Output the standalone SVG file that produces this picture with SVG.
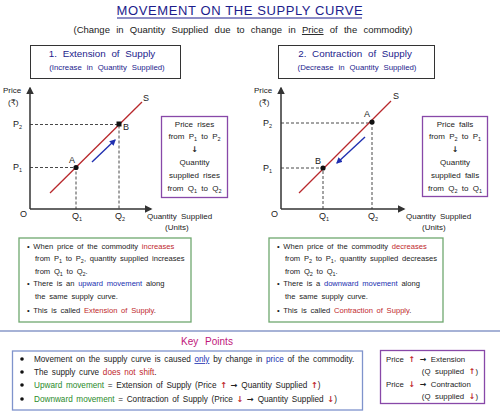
<svg xmlns="http://www.w3.org/2000/svg" width="500" height="413" viewBox="0 0 500 413">
<defs>
<style>
text{font-family:"Liberation Sans","DejaVu Sans","Noto Sans",sans-serif;fill:#222;}
.title{font-size:13px;fill:#1c1c8c;letter-spacing:0.6px;}
.sub{font-size:9.5px;fill:#222;word-spacing:3.6px;}
.hd{font-size:9.8px;fill:#1c1c8c;word-spacing:3px;}
.hd2{font-size:7.8px;fill:#1c1c8c;word-spacing:2.8px;}
.ax{font-size:8px;}
.lbl{font-size:9px;}
.bx{font-size:8px;word-spacing:2px;}
.gt{font-size:7.6px;word-spacing:1.6px;}
.kp{font-size:8.2px;word-spacing:1.4px;}
.st{font-size:7.8px;word-spacing:2.5px;}
.ar{font-family:"DejaVu Sans",sans-serif;font-weight:bold;}
.rd{fill:#c0282c;}
.bl{fill:#2030b0;}
.gr{fill:#2a8a2a;}
.s{font-size:5.5px;}
.box{fill:#fff;stroke:#333;stroke-width:1;}
.pbox{fill:#fff;stroke:#8848a8;stroke-width:1.3;}
.gbox{fill:#fff;stroke:#6fa86f;stroke-width:1.3;}
.kbox{fill:#fff;stroke:#7f93cc;stroke-width:1.3;}
.axis{stroke:#333;stroke-width:1.5;fill:none;}
.dash{stroke:#333;stroke-width:0.9;stroke-dasharray:3,2;fill:none;}
.curve{stroke:#b8282c;stroke-width:1.3;fill:none;}
.mv{stroke:#2030b0;stroke-width:1.4;fill:none;}
</style>
<marker id="ah" viewBox="0 0 10 10" refX="8" refY="5" markerWidth="5" markerHeight="5" orient="auto"><path d="M0,0 L10,5 L0,10 z" fill="#333"/></marker>
<marker id="bh" viewBox="0 0 10 10" refX="8" refY="5" markerWidth="4.5" markerHeight="4.5" orient="auto"><path d="M0,0 L10,5 L0,10 z" fill="#2030b0"/></marker>
</defs>
<rect width="500" height="413" fill="#fff"/>

<g id="title">
<text class="title" x="240" y="15" text-anchor="middle">MOVEMENT ON THE SUPPLY CURVE</text>
<line x1="117" y1="18" x2="362" y2="18" stroke="#1c1c8c" stroke-width="1"/>
<text class="sub" x="243" y="33" text-anchor="middle">(Change in Quantity Supplied due to change in <tspan text-decoration="underline">Price</tspan> of the commodity)</text>
</g>

<g id="head1">
<rect class="box" x="30.5" y="45.5" width="150" height="33"/>
<text class="hd" x="102" y="57" text-anchor="middle">1. Extension of Supply</text>
<text class="hd2" x="107" y="70" text-anchor="middle">(Increase in Quantity Supplied)</text>
</g>
<g id="head2">
<rect class="box" x="278.5" y="45.5" width="156" height="33"/>
<text class="hd" x="355" y="57" text-anchor="middle">2. Contraction of Supply</text>
<text class="hd2" x="357" y="70" text-anchor="middle">(Decrease in Quantity Supplied)</text>
</g>

<g id="graph1">
<text class="ax" x="3" y="93">Price</text>
<text class="ax" x="8" y="105">(₹)</text>
<text class="lbl" x="13" y="127">P<tspan class="s" dy="2">2</tspan></text>
<text class="lbl" x="13" y="170">P<tspan class="s" dy="2">1</tspan></text>
<text class="lbl" x="20" y="217">O</text>
<text class="lbl" x="72" y="219">Q<tspan class="s" dy="2">1</tspan></text>
<text class="lbl" x="115" y="219">Q<tspan class="s" dy="2">2</tspan></text>
<text class="ax" x="147" y="219" style="word-spacing:2px">Quantity Supplied</text>
<text class="ax" x="165" y="230">(Units)</text>
<text class="lbl" x="143" y="101">S</text>
<text class="lbl" x="69" y="163">A</text>
<text class="lbl" x="123" y="130">B</text>
</g>
<g id="graph2">
<text class="ax" x="254" y="93">Price</text>
<text class="ax" x="259" y="105">(₹)</text>
<text class="lbl" x="263" y="126">P<tspan class="s" dy="2">2</tspan></text>
<text class="lbl" x="263" y="171">P<tspan class="s" dy="2">1</tspan></text>
<text class="lbl" x="271" y="217">O</text>
<text class="lbl" x="319" y="219">Q<tspan class="s" dy="2">1</tspan></text>
<text class="lbl" x="368" y="219">Q<tspan class="s" dy="2">2</tspan></text>
<text class="ax" x="406" y="219" style="word-spacing:2px">Quantity Supplied</text>
<text class="ax" x="422" y="230">(Units)</text>
<text class="lbl" x="393" y="99">S</text>
<text class="lbl" x="364" y="117">A</text>
<text class="lbl" x="315" y="164">B</text>
</g>

<g id="connectors">
<path class="axis" d="M30,209 V88" marker-end="url(#ah)"/>
<path class="axis" d="M30,209 H151" marker-end="url(#ah)"/>
<path class="dash" d="M30,124.5 H119 V209"/>
<path class="dash" d="M30,167.5 H76 V209"/>
<line class="curve" x1="50" y1="193" x2="142" y2="102"/>
<line class="mv" x1="92" y1="162" x2="115" y2="140" marker-end="url(#bh)"/>
<circle cx="76" cy="167.5" r="2.6" fill="#111"/>
<rect x="116.5" y="121.5" width="5" height="5" fill="#111"/>

<path class="axis" d="M281,209 V88" marker-end="url(#ah)"/>
<path class="axis" d="M281,209 H404" marker-end="url(#ah)"/>
<path class="dash" d="M281,123 H372 V209"/>
<path class="dash" d="M281,168 H323 V209"/>
<line class="curve" x1="299" y1="193" x2="391" y2="101"/>
<line class="mv" x1="365" y1="137" x2="337" y2="163" marker-end="url(#bh)"/>
<circle cx="372" cy="122" r="2.6" fill="#111"/>
<circle cx="323" cy="168" r="2.6" fill="#111"/>
</g>

<g id="note1">
<rect class="pbox" x="161.5" y="116.5" width="66" height="81"/>
<text class="bx" x="194.5" y="127" text-anchor="middle">Price rises</text>
<text class="bx" x="194.5" y="139" text-anchor="middle">from P<tspan class="s" dy="2">1</tspan><tspan dy="-2"> to P</tspan><tspan class="s" dy="2">2</tspan></text>
<text class="bx ar" x="194.5" y="152" text-anchor="middle">↓</text>
<text class="bx" x="194.5" y="165" text-anchor="middle">Quantity</text>
<text class="bx" x="194.5" y="178" text-anchor="middle">supplied rises</text>
<text class="bx" x="194.5" y="191" text-anchor="middle">from Q<tspan class="s" dy="2">1</tspan><tspan dy="-2"> to Q</tspan><tspan class="s" dy="2">2</tspan></text>
</g>
<g id="note2">
<rect class="pbox" x="422.5" y="116.5" width="65" height="80"/>
<text class="bx" x="455" y="127" text-anchor="middle">Price falls</text>
<text class="bx" x="455" y="139" text-anchor="middle">from P<tspan class="s" dy="2">2</tspan><tspan dy="-2"> to P</tspan><tspan class="s" dy="2">1</tspan></text>
<text class="bx ar" x="455" y="152" text-anchor="middle">↓</text>
<text class="bx" x="455" y="165" text-anchor="middle">Quantity</text>
<text class="bx" x="455" y="178" text-anchor="middle">supplied falls</text>
<text class="bx" x="455" y="191" text-anchor="middle">from Q<tspan class="s" dy="2">2</tspan><tspan dy="-2"> to Q</tspan><tspan class="s" dy="2">1</tspan></text>
</g>

<g id="explain1">
<rect class="gbox" x="19" y="238" width="172" height="84"/>
<text class="gt" x="27" y="249">• When price of the commodity <tspan class="rd">increases</tspan></text>
<text class="gt" x="35" y="261">from P<tspan class="s" dy="2">1</tspan><tspan dy="-2"> to P</tspan><tspan class="s" dy="2">2</tspan><tspan dy="-2">, quantity supplied increases</tspan></text>
<text class="gt" x="35" y="274">from Q<tspan class="s" dy="2">1</tspan><tspan dy="-2"> to Q</tspan><tspan class="s" dy="2">2</tspan><tspan dy="-2">.</tspan></text>
<text class="gt" x="27" y="286">• There is an <tspan class="bl">upward movement</tspan> along</text>
<text class="gt" x="35" y="299">the same supply curve.</text>
<text class="gt" x="27" y="313">• This is called <tspan class="rd">Extension of Supply</tspan>.</text>
</g>
<g id="explain2">
<rect class="gbox" x="269" y="238" width="174" height="84"/>
<text class="gt" x="277" y="249">• When price of the commodity <tspan class="rd">decreases</tspan></text>
<text class="gt" x="285" y="261">from P<tspan class="s" dy="2">2</tspan><tspan dy="-2"> to P</tspan><tspan class="s" dy="2">1</tspan><tspan dy="-2">, quantity supplied decreases</tspan></text>
<text class="gt" x="285" y="274">from Q<tspan class="s" dy="2">2</tspan><tspan dy="-2"> to Q</tspan><tspan class="s" dy="2">1</tspan><tspan dy="-2">.</tspan></text>
<text class="gt" x="277" y="286">• There is a <tspan class="bl">downward movement</tspan> along</text>
<text class="gt" x="285" y="299">the same supply curve.</text>
<text class="gt" x="277" y="313">• This is called <tspan class="rd">Contraction of Supply</tspan>.</text>
</g>

<line x1="0" y1="331" x2="500" y2="331" stroke="#8898c8" stroke-width="1.5"/>

<g id="keypoints">
<text x="207" y="345" text-anchor="middle" font-size="10" style="fill:#c0157a;word-spacing:4px">Key Points</text>
<rect class="kbox" x="12.5" y="351" width="350" height="59"/>
<circle cx="22" cy="359" r="1.8" fill="#111"/>
<circle cx="22" cy="372" r="1.8" fill="#111"/>
<circle cx="22" cy="385" r="1.8" fill="#111"/>
<circle cx="22" cy="399" r="1.8" fill="#111"/>
<text class="kp" x="34" y="362">Movement on the supply curve is caused <tspan class="bl" text-decoration="underline">only</tspan> by change in <tspan class="bl">price</tspan> of the commodity.</text>
<text class="kp" x="34" y="375">The supply curve <tspan class="rd">does not shift</tspan>.</text>
<text class="kp" x="34" y="388"><tspan class="gr">Upward movement</tspan> = Extension of Supply (Price <tspan class="rd ar">↑</tspan> <tspan class="ar">→</tspan> Quantity Supplied <tspan class="rd ar">↑</tspan>)</text>
<text class="kp" x="34" y="402"><tspan class="gr">Downward movement</tspan> = Contraction of Supply (Price <tspan class="rd ar">↓</tspan> <tspan class="ar">→</tspan> Quantity Supplied <tspan class="rd ar">↓</tspan>)</text>
</g>
<g id="summary">
<rect class="pbox" x="380.5" y="350.5" width="104" height="53"/>
<text class="st" x="386" y="362">Price <tspan class="rd ar">↑</tspan> <tspan class="ar">→</tspan> Extension</text>
<text class="st" x="478" y="374" text-anchor="end">(Q supplied <tspan class="rd ar">↑</tspan>)</text>
<text class="st" x="386" y="387">Price <tspan class="rd ar">↓</tspan> <tspan class="ar">→</tspan> Contraction</text>
<text class="st" x="478" y="399" text-anchor="end">(Q supplied <tspan class="rd ar">↓</tspan>)</text>
</g>
</svg>
